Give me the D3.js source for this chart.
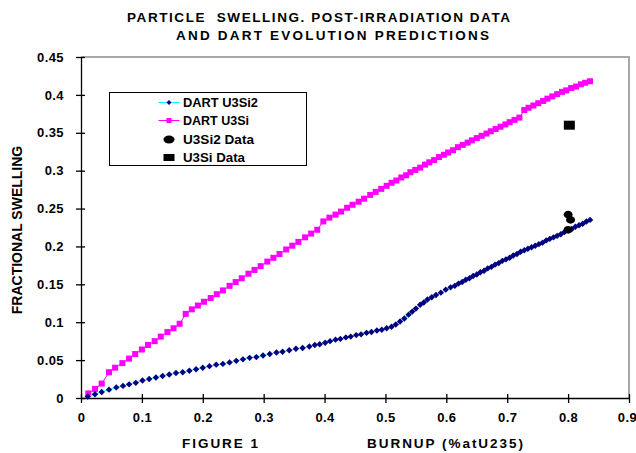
<!DOCTYPE html>
<html>
<head>
<meta charset="utf-8">
<script src="https://cdn.jsdelivr.net/npm/d3@7"></script>
<style>
  body { margin: 0; background: #fff; }
  text { font-family: "Liberation Sans Narrow", "Arial Narrow", "Liberation Sans", sans-serif; font-weight: bold; fill: #000; }
</style>
</head>
<body>
<div id="chart"></div>
<script>
// DART U3Si2 prediction (burnup %at U235, fractional swelling)
const u3si2Burnup = [0.011, 0.023, 0.034, 0.046, 0.058, 0.069, 0.079, 0.090, 0.101, 0.112, 0.123, 0.134, 0.145, 0.156, 0.167, 0.178, 0.189, 0.200, 0.211, 0.222, 0.233, 0.244, 0.255, 0.266, 0.277, 0.288, 0.299, 0.310, 0.321, 0.331, 0.342, 0.353, 0.364, 0.375, 0.384, 0.392, 0.401, 0.409, 0.418, 0.426, 0.435, 0.443, 0.452, 0.460, 0.469, 0.477, 0.486, 0.494, 0.502, 0.510, 0.517, 0.524, 0.531, 0.538, 0.544, 0.550, 0.557, 0.563, 0.569, 0.576, 0.583, 0.591, 0.599, 0.607, 0.614, 0.620, 0.626, 0.632, 0.638, 0.644, 0.650, 0.656, 0.662, 0.668, 0.674, 0.680, 0.686, 0.692, 0.698, 0.704, 0.710, 0.716, 0.722, 0.728, 0.734, 0.740, 0.746, 0.752, 0.758, 0.764, 0.770, 0.776, 0.782, 0.788, 0.794, 0.800, 0.806, 0.812, 0.818, 0.824, 0.830, 0.836];
const u3si2Swelling = [0.002, 0.005, 0.008, 0.011, 0.014, 0.016, 0.018, 0.020, 0.023, 0.025, 0.027, 0.029, 0.031, 0.033, 0.034, 0.036, 0.038, 0.040, 0.042, 0.044, 0.045, 0.047, 0.049, 0.051, 0.053, 0.054, 0.056, 0.058, 0.060, 0.061, 0.063, 0.065, 0.066, 0.068, 0.070, 0.071, 0.073, 0.075, 0.077, 0.078, 0.080, 0.081, 0.083, 0.084, 0.086, 0.087, 0.089, 0.090, 0.092, 0.094, 0.097, 0.101, 0.105, 0.110, 0.114, 0.118, 0.123, 0.126, 0.130, 0.133, 0.136, 0.139, 0.143, 0.146, 0.148, 0.151, 0.153, 0.156, 0.158, 0.161, 0.163, 0.166, 0.168, 0.171, 0.173, 0.176, 0.178, 0.181, 0.183, 0.185, 0.188, 0.190, 0.193, 0.195, 0.197, 0.199, 0.201, 0.203, 0.205, 0.208, 0.210, 0.212, 0.214, 0.216, 0.219, 0.221, 0.223, 0.226, 0.228, 0.230, 0.233, 0.235];

// DART U3Si prediction
const u3siBurnup = [0.012, 0.023, 0.034, 0.046, 0.056, 0.068, 0.079, 0.089, 0.100, 0.110, 0.121, 0.131, 0.142, 0.152, 0.162, 0.172, 0.182, 0.192, 0.202, 0.213, 0.223, 0.233, 0.244, 0.254, 0.264, 0.275, 0.285, 0.295, 0.306, 0.316, 0.326, 0.337, 0.347, 0.357, 0.368, 0.378, 0.388, 0.398, 0.408, 0.418, 0.427, 0.437, 0.446, 0.456, 0.465, 0.475, 0.484, 0.493, 0.502, 0.510, 0.518, 0.526, 0.534, 0.541, 0.549, 0.557, 0.565, 0.572, 0.580, 0.588, 0.596, 0.603, 0.611, 0.619, 0.627, 0.635, 0.642, 0.650, 0.658, 0.666, 0.673, 0.681, 0.689, 0.697, 0.704, 0.712, 0.720, 0.728, 0.735, 0.743, 0.751, 0.759, 0.766, 0.774, 0.782, 0.790, 0.797, 0.805, 0.813, 0.821, 0.828, 0.836];
const u3siSwelling = [0.006, 0.012, 0.019, 0.034, 0.040, 0.046, 0.052, 0.058, 0.064, 0.070, 0.075, 0.081, 0.087, 0.092, 0.098, 0.111, 0.117, 0.122, 0.127, 0.132, 0.137, 0.142, 0.148, 0.153, 0.158, 0.164, 0.169, 0.174, 0.180, 0.185, 0.190, 0.196, 0.201, 0.206, 0.212, 0.217, 0.222, 0.233, 0.238, 0.242, 0.246, 0.251, 0.255, 0.259, 0.263, 0.268, 0.272, 0.276, 0.280, 0.284, 0.287, 0.291, 0.294, 0.298, 0.301, 0.304, 0.308, 0.311, 0.314, 0.318, 0.321, 0.324, 0.327, 0.331, 0.334, 0.337, 0.340, 0.343, 0.346, 0.349, 0.352, 0.355, 0.358, 0.361, 0.364, 0.367, 0.370, 0.380, 0.383, 0.386, 0.389, 0.392, 0.395, 0.398, 0.401, 0.404, 0.406, 0.409, 0.411, 0.414, 0.416, 0.418];

// post-irradiation measurements
const u3si2DataBurnup = [0.800, 0.804, 0.800];
const u3si2DataSwelling = [0.242, 0.235, 0.222];
const u3siDataBurnup = [0.802];
const u3siDataSwelling = [0.360];

const xTicks = [0, 0.1, 0.2, 0.3, 0.4, 0.5, 0.6, 0.7, 0.8, 0.9];
const xTickLabels = ['0', '0.1', '0.2', '0.3', '0.4', '0.5', '0.6', '0.7', '0.8', '0.9'];
const yTicks = [0, 0.05, 0.1, 0.15, 0.2, 0.25, 0.3, 0.35, 0.4, 0.45];
const yTickLabels = ['0', '0.05', '0.1', '0.15', '0.2', '0.25', '0.3', '0.35', '0.4', '0.45'];

const legendLabels = ['DART U3Si2', 'DART U3Si', 'U3Si2 Data', 'U3Si Data'];
const legendWidths = [75, 66, 71, 62];

const width = 636;
const height = 453;
const margin = { top: 57, right: 7, bottom: 55, left: 81 };

const svg = d3.select('#chart')
    .append('svg')
    .attr('width', width)
    .attr('height', height);

const x = d3.scaleLinear()
    .domain([0, 0.9])
    .range([margin.left, width - margin.right]);

const y = d3.scaleLinear()
    .domain([0, 0.45])
    .range([height - margin.bottom, margin.top]);

// plot area frame (top and right edges are grey)
svg.append('path')
    .attr('d', `M${x(0)},${y(0.45)}H${x(0.9)}V${y(0)}`)
    .attr('fill', 'none')
    .attr('stroke', '#a8a8a8')
    .attr('stroke-width', 2);

const xAxis = d3.axisBottom(x)
    .tickValues(xTicks)
    .tickFormat((d, i) => xTickLabels[i])
    .tickSizeOuter(0)
    .tickSizeInner(5)
    .tickPadding(10);

const yAxis = d3.axisLeft(y)
    .tickValues(yTicks)
    .tickFormat((d, i) => yTickLabels[i])
    .tickSizeOuter(0)
    .tickSizeInner(5)
    .tickPadding(12);

const gx = svg.append('g')
    .attr('transform', `translate(0, ${y(0)})`)
    .call(xAxis);
gx.selectAll('.tick line').attr('y1', -4);

const gy = svg.append('g')
    .attr('transform', `translate(${x(0)}, 0)`)
    .call(yAxis);
gy.selectAll('.tick line').attr('x1', 4);

svg.selectAll('.domain').attr('stroke', '#000').attr('stroke-width', 1.3);
svg.selectAll('.tick line').attr('stroke', '#000').attr('stroke-width', 1.3);
svg.selectAll('.tick text')
    .style('font-size', '13px')
    .style('letter-spacing', '0.4px')
    .attr('fill', '#000');
// last x label sits at the window edge
gx.selectAll('.tick text').filter((d) => d === 0.9).attr('dx', -2);

// series
const u3si2 = u3si2Burnup.map((b, i) => [b, u3si2Swelling[i]]);
const u3si = u3siBurnup.map((b, i) => [b, u3siSwelling[i]]);

const line = d3.line()
    .x((d) => x(d[0]))
    .y((d) => y(d[1]));

svg.append('path')
    .datum(u3si)
    .attr('d', line)
    .attr('fill', 'none')
    .attr('stroke', '#ff00ff')
    .attr('stroke-width', 1);

svg.selectAll('rect.u3si')
    .data(u3si)
    .enter()
    .append('rect')
    .attr('class', 'u3si')
    .attr('x', (d) => x(d[0]) - 3)
    .attr('y', (d) => y(d[1]) - 3)
    .attr('width', 6)
    .attr('height', 6)
    .attr('fill', '#ff00ff');

svg.append('path')
    .datum(u3si2)
    .attr('d', line)
    .attr('fill', 'none')
    .attr('stroke', '#00ffff')
    .attr('stroke-width', 1);

const diamond = 'M0,-3.2L3.2,0L0,3.2L-3.2,0Z';

svg.selectAll('path.u3si2')
    .data(u3si2)
    .enter()
    .append('path')
    .attr('class', 'u3si2')
    .attr('d', diamond)
    .attr('transform', (d) => `translate(${x(d[0])}, ${y(d[1])})`)
    .attr('fill', '#000080');

// measured data
svg.selectAll('ellipse.data')
    .data(u3si2DataBurnup.map((b, i) => [b, u3si2DataSwelling[i]]))
    .enter()
    .append('ellipse')
    .attr('class', 'data')
    .attr('cx', (d) => x(d[0]))
    .attr('cy', (d) => y(d[1]))
    .attr('rx', 4.5)
    .attr('ry', 3.8)
    .attr('fill', '#000');

svg.selectAll('rect.data')
    .data(u3siDataBurnup.map((b, i) => [b, u3siDataSwelling[i]]))
    .enter()
    .append('rect')
    .attr('class', 'data')
    .attr('x', (d) => x(d[0]) - 5.5)
    .attr('y', (d) => y(d[1]) - 4.5)
    .attr('width', 11)
    .attr('height', 9)
    .attr('fill', '#000');

// legend
const legend = svg.append('g').attr('transform', 'translate(109.5, 92.5)');
legend.append('rect')
    .attr('width', 197)
    .attr('height', 73)
    .attr('fill', '#fff')
    .attr('stroke', '#000')
    .attr('stroke-width', 1);

const rowY = [10, 28, 47, 65];
legendLabels.forEach((label, i) => {
    const row = legend.append('g').attr('transform', `translate(0, ${rowY[i]})`);
    if (i === 0) {
        row.append('line').attr('x1', 49).attr('x2', 70).attr('stroke', '#00ffff');
        row.append('path').attr('d', 'M0,-2.5L2.5,0L0,2.5L-2.5,0Z')
            .attr('transform', 'translate(59.5, 0)').attr('fill', '#000080');
    } else if (i === 1) {
        row.append('line').attr('x1', 49).attr('x2', 70).attr('stroke', '#ff00ff');
        row.append('rect').attr('x', 57).attr('y', -2.5).attr('width', 5).attr('height', 5).attr('fill', '#ff00ff');
    } else if (i === 2) {
        row.append('ellipse').attr('cx', 59.5).attr('cy', 0).attr('rx', 5.5).attr('ry', 4).attr('fill', '#000');
    } else {
        row.append('rect').attr('x', 54).attr('y', -3.5).attr('width', 11).attr('height', 7).attr('fill', '#000');
    }
    row.append('text')
        .attr('x', 73.5)
        .attr('y', 4.5)
        .attr('textLength', legendWidths[i])
        .attr('lengthAdjust', 'spacingAndGlyphs')
        .style('font-size', '12.5px')
        .text(label);
});

// titles
svg.append('text')
    .attr('x', 127)
    .attr('y', 22)
    .attr('textLength', 383)
    .attr('lengthAdjust', 'spacing')
    .style('font-size', '13.5px')
    .style('white-space', 'pre')
    .text('PARTICLE  SWELLING. POST-IRRADIATION DATA');

svg.append('text')
    .attr('x', 176)
    .attr('y', 40)
    .attr('textLength', 313)
    .attr('lengthAdjust', 'spacing')
    .style('font-size', '13.5px')
    .text('AND DART EVOLUTION PREDICTIONS');

svg.append('text')
    .attr('transform', 'translate(22, 230) rotate(-90)')
    .attr('text-anchor', 'middle')
    .style('font-size', '14px')
    .text('FRACTIONAL SWELLING');

svg.append('text')
    .attr('x', 182)
    .attr('y', 448)
    .attr('textLength', 76)
    .attr('lengthAdjust', 'spacing')
    .style('font-size', '13.5px')
    .text('FIGURE 1');

svg.append('text')
    .attr('x', 367)
    .attr('y', 448)
    .attr('textLength', 156)
    .attr('lengthAdjust', 'spacing')
    .style('font-size', '13.5px')
    .text('BURNUP (%atU235)');
</script>
</body>
</html>
